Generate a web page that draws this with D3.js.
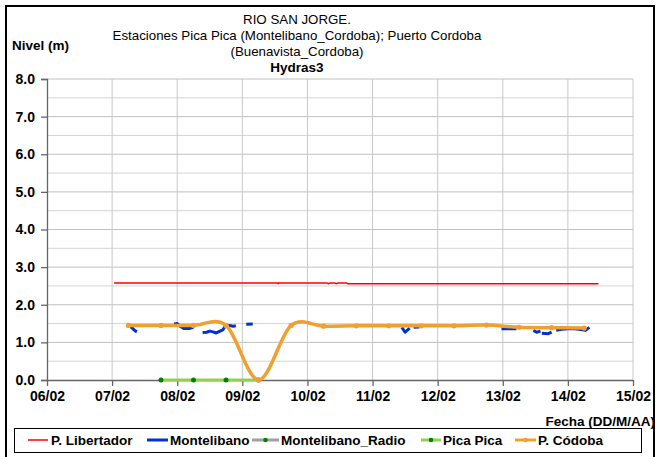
<!DOCTYPE html>
<html><head><meta charset="utf-8">
<script src="https://cdn.jsdelivr.net/npm/d3@7"></script>
<style>
body{margin:0;background:#fff;}
text{font-family:"Liberation Sans",Arial,sans-serif;}
</style></head>
<body><svg id="c" width="658" height="457"></svg>
<script>
// ---- data (x = days since 06/02) ----
const xTickLabels = ["06/02","07/02","08/02","09/02","10/02","11/02","12/02","13/02","14/02","15/02"];
const yTicks = [0,1,2,3,4,5,6,7,8];
const titleLines = ["RIO SAN JORGE.","Estaciones Pica Pica (Montelibano_Cordoba); Puerto Cordoba","(Buenavista_Cordoba)"];
const subTitle = "Hydras3";
const seriesNames = ["P. Libertador","Montelibano","Montelibano_Radio","Pica Pica","P. Códoba"];

const libertadorX = [1.03,3.54,3.55,3.56,4.30,4.32,4.35,4.42,4.44,4.47,4.60,4.62,8.47];
const libertadorY = [2.58,2.58,2.56,2.58,2.58,2.56,2.58,2.58,2.56,2.58,2.58,2.555,2.555];

// null = gap in the record
const montelibanoX = [1.27,1.31,1.36,1.38,null,1.95,2.0,2.05,2.1,2.18,2.25,null,
  2.39,2.45,2.5,2.55,2.6,2.65,2.7,2.74,2.8,2.86,2.9,null,3.06,3.16,null,
  5.45,5.5,5.57,null,5.63,5.72,null,6.98,7.1,7.21,null,7.47,7.52,7.58,null,
  7.6,7.7,7.75,null,7.82,7.9,8.0,8.1,8.2,8.27,8.33];
const montelibanoY = [1.44,1.38,1.30,1.28,null,1.49,1.50,1.42,1.37,1.37,1.40,null,
  1.26,1.27,1.30,1.28,1.25,1.29,1.33,1.44,1.45,1.43,1.44,null,1.48,1.49,null,
  1.40,1.27,1.38,null,1.40,1.41,null,1.36,1.36,1.36,null,1.32,1.27,1.30,null,
  1.24,1.23,1.27,null,1.32,1.35,1.36,1.36,1.34,1.32,1.40];

const radioX = [];
const radioY = [];

const picaX = [1.75,2.25,2.75,3.25];
const picaY = [0,0,0,0];

const cordobaX = [1.25,1.75,2.25,2.75,3.25,3.75,4.25,4.75,5.25,5.75,6.25,6.75,7.25,7.75,8.25];
const cordobaY = [1.45,1.45,1.45,1.45,0.0,1.45,1.43,1.44,1.44,1.44,1.44,1.46,1.40,1.39,1.38];

// ---- layout ----
const svg = d3.select("#c");
const L = 47, R = 633, T = 79, B = 380;
const x = d3.scaleLinear().domain([0, 9]).range([L, R]);
const y = d3.scaleLinear().domain([0, 8]).range([B, T]);

// outer frame
svg.append("rect").attr("x",6).attr("y",6).attr("width",648).attr("height",470)
  .attr("fill","none").attr("stroke","#000").attr("stroke-width",2);

// gridlines
const g = svg.append("g");
const minor = d3.range(0.5, 8, 1);
g.selectAll(".mn").data(minor).join("line")
  .attr("x1",L).attr("x2",R).attr("y1",d=>y(d)).attr("y2",d=>y(d))
  .attr("stroke","#d4d4d4").attr("stroke-width",1);
g.selectAll(".mj").data(yTicks.slice(1)).join("line")
  .attr("x1",L).attr("x2",R).attr("y1",d=>y(d)).attr("y2",d=>y(d))
  .attr("stroke","#c0c0c0").attr("stroke-width",1);
g.selectAll(".vx").data(d3.range(1,10)).join("line")
  .attr("x1",d=>x(d)).attr("x2",d=>x(d)).attr("y1",T).attr("y2",B)
  .attr("stroke","#c8c8c8").attr("stroke-width",1);

// axes
const yAxis = d3.axisLeft(y).tickValues(yTicks).tickFormat(d3.format(".1f")).tickSize(6).tickPadding(6);
const ya = svg.append("g").attr("transform",`translate(${L},0)`).call(yAxis);
const xAxis = d3.axisBottom(x).tickValues(d3.range(0,10)).tickFormat((d,i)=>xTickLabels[i]).tickSize(6).tickPadding(5);
const xa = svg.append("g").attr("transform",`translate(0,${B})`).call(xAxis);
[ya,xa].forEach(a=>{
  a.select(".domain").attr("stroke","#666").attr("stroke-width",1.3);
  a.selectAll(".tick line").attr("stroke","#666").attr("stroke-width",1.3);
  a.selectAll("text").attr("font-size","14px").attr("font-weight","bold")
    .attr("fill","#000").attr("font-family","Liberation Sans, Arial");
});
xa.select(".domain").attr("d",`M${L},0.5H${R}`);

// titles
const tcx = 297;
svg.selectAll(".ttl").data(titleLines).join("text")
  .attr("x",tcx).attr("y",(d,i)=>24+i*16).attr("text-anchor","middle")
  .attr("font-size","13.3px").text(d=>d);
svg.append("text").attr("x",tcx).attr("y",72).attr("text-anchor","middle")
  .attr("font-size","13.5px").attr("font-weight","bold").text(subTitle);
svg.append("text").attr("x",12).attr("y",50).attr("font-size","13.5px")
  .attr("font-weight","bold").text("Nivel (m)");
svg.append("text").attr("x",655).attr("y",426).attr("text-anchor","end")
  .attr("font-size","13.5px").attr("font-weight","bold").text("Fecha (DD/M/AA)");

const zip = (xs,ys)=>xs.map((v,i)=>({x:v,y:ys[i]}));
const lineGen = d3.line().defined(d=>d.x!==null && d.y!==null).x(d=>x(d.x)).y(d=>y(d.y));

// Pica Pica
svg.append("path").datum(zip(picaX,picaY)).attr("d",lineGen)
  .attr("fill","none").attr("stroke","#92d050").attr("stroke-width",3);
svg.selectAll(".pp").data(zip(picaX,picaY)).join("circle")
  .attr("cx",d=>x(d.x)).attr("cy",d=>y(d.y)).attr("r",2.5).attr("fill","#008000");

// Radio (empty)
svg.append("path").datum(zip(radioX,radioY)).attr("d",lineGen)
  .attr("fill","none").attr("stroke","#a0a0a0").attr("stroke-width",2.5);

// P. Libertador
svg.append("path").datum(zip(libertadorX,libertadorY)).attr("d",lineGen)
  .attr("fill","none").attr("stroke","#ff0000").attr("stroke-width",1.5);

// Montelibano
svg.append("path").datum(zip(montelibanoX,montelibanoY)).attr("d",lineGen)
  .attr("fill","none").attr("stroke","#0033cc").attr("stroke-width",3)
  .attr("stroke-linejoin","round");

// P. Cordoba (smoothed)
const smooth = d3.line().x(d=>x(d.x)).y(d=>y(d.y)).curve(d3.curveCardinal.tension(0));
svg.append("path").datum(zip(cordobaX,cordobaY)).attr("d",smooth)
  .attr("fill","none").attr("stroke","#f0a030").attr("stroke-width",3.5);
svg.selectAll(".cm").data(zip(cordobaX,cordobaY)).join("circle")
  .attr("cx",d=>x(d.x)).attr("cy",d=>y(d.y)).attr("r",2.6).attr("fill","#f0a030");

// legend
svg.append("rect").attr("x",14.5).attr("y",428.5).attr("width",627).attr("height",24)
  .attr("fill","#fff").attr("stroke","#000").attr("stroke-width",1);
const leg = [
  {n:seriesNames[0], c:"#ff0000", w:1.5, m:null, x0:28, x1:48, tx:51},
  {n:seriesNames[1], c:"#0033cc", w:3, m:null, x0:147, x1:168, tx:170},
  {n:seriesNames[2], c:"#a0a0a0", w:3, m:"#008000", x0:252, x1:279, tx:281},
  {n:seriesNames[3], c:"#92d050", w:3, m:"#008000", x0:421, x1:441, tx:443},
  {n:seriesNames[4], c:"#f0a030", w:3, m:"#f0a030", x0:515, x1:536, tx:538}
];
const ly = 440;
leg.forEach(d=>{
  svg.append("line").attr("x1",d.x0).attr("x2",d.x1).attr("y1",ly).attr("y2",ly)
    .attr("stroke",d.c).attr("stroke-width",d.w);
  if(d.m) svg.append("circle").attr("cx",(d.x0+d.x1)/2).attr("cy",ly).attr("r",2.3).attr("fill",d.m);
  svg.append("text").attr("x",d.tx).attr("y",ly+5).attr("font-size","13.5px")
    .attr("font-weight","bold").text(d.n);
});
</script></body></html>
